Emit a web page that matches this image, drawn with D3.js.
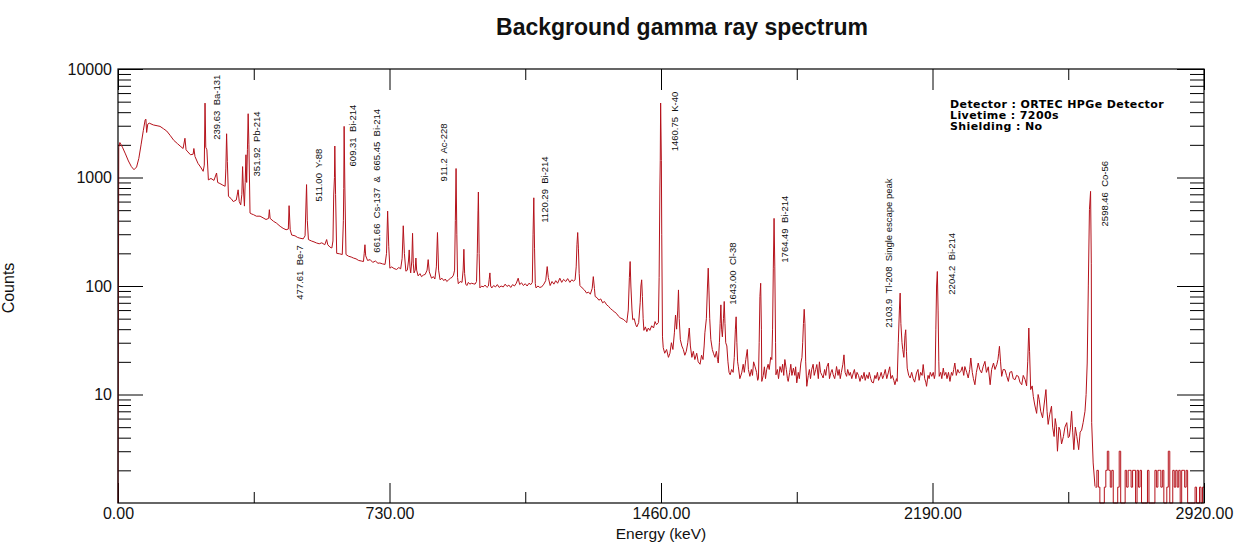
<!DOCTYPE html>
<html><head><meta charset="utf-8">
<script src="https://cdn.jsdelivr.net/npm/d3@7"></script>
<style>
body{margin:0;background:#fff;}
svg{display:block;font-family:"Liberation Sans",Arial,sans-serif;}
</style>
</head><body><svg id="chart" width="1245" height="552"></svg>
<script>
// ---------------- data ----------------
const titleText = "Background gamma ray spectrum";
const xLabel = "Energy (keV)";
const yLabel = "Counts";
const xMajorTicks = [0, 730, 1460, 2190, 2920];
const xMinorTicks = [365, 1095, 1825, 2555];
const yMajorTicks = [10, 100, 1000, 10000];
const infoLines = ["Detector : ORTEC HPGe Detector", "Livetime : 7200s", "Shielding : No"];

// [energy keV, counts]
const spectrumLow = [[0,1],[2,1900],[5,2100],[12,1900],[20,1650],[28,1420],[36,1260],[43,1180],[50,1250],[56,1500],[62,2000],[68,2700],[73,3400],[75,3450],[77,2600],[80,3100],[84,3170],[95,3050],[105,3000],[113,2960],[122,2820],[131,2680],[140,2450],[150,2200],[160,2050],[167,1950],[175,1850],[180,2300],[183,1800],[188,1720],[195,1620],[202,1640],[204,1850],[207,1560],[215,1350],[222,1250],[229,1140],[232,1300],[234,4850],[236,1900],[239,1800],[243,950],[250,980],[258,940],[265,1100],[268,900],[274,880],[282,850],[288,830],[290,1200],[292,2530],[294,1400],[297,670],[304,640],[310,600],[318,620],[323,770],[326,600],[330,560],[333,700],[335,1260],[337,800],[340,545],[342,900],[344,1620],[346,900],[348,1800],[350,3870],[352,2000],[355,470],[360,460],[364,455],[372,440],[382,440],[390,425],[398,410],[405,420],[407,505],[409,420],[418,395],[426,380],[436,355],[444,340],[452,330],[458,335],[460,550],[463,330],[467,295],[476,290],[483,280],[489,276],[498,272],[503,290],[507,860],[509,400],[512,268],[520,260],[527,255],[534,249],[541,245],[548,250],[556,240],[561,268],[564,240],[570,228],[575,224],[578,260],[580,690],[582,1000],[583,1950],[585,700],[588,200],[596,198],[603,195],[606,400],[607,790],[608,2960],[610,800],[613,195],[620,188],[627,185],[633,181],[640,178],[647,172],[654,170],[660,168],[662,200],[664,240],[666,190],[671,172],[678,175],[685,165],[692,170],[699,162],[704,163],[711,160],[718,158],[722,200],[725,490],[728,230],[731,146]];

const spectrumMid = [[736,150],[742,145],[749,142],[755,148],[760,144],[764,180],[767,359],[770,200],[774,137],[778,140],[781,170],[783,215],[785,150],[787,132],[790,170],[792,306],[794,160],[796,132],[799,140],[801,181],[803,140],[807,124],[812,130],[816,122],[821,126],[826,128],[831,140],[834,175],[837,135],[843,118],[848,122],[852,116],[856,150],[859,311],[862,140],[866,114],[871,118],[876,112],[880,116],[884,110],[889,114],[894,118],[898,120],[902,126],[905,140],[907,400],[909,1210],[911,300],[913,120],[915,105],[920,110],[925,108],[928,140],[930,218],[932,130],[935,104],[938,101],[942,108],[946,104],[950,106],[955,105],[960,104],[964,110],[966,200],[968,500],[969,735],[971,200],[973,96],[978,100],[982,98],[987,102],[992,97],[996,100],[998,115],[1000,132],[1002,100],[1005,96],[1010,101],[1015,98],[1020,103],[1025,97],[1030,100],[1036,98],[1041,104],[1046,99],[1051,102],[1056,97],[1061,103],[1066,100],[1071,106],[1076,118],[1080,103],[1085,107],[1090,101],[1095,105],[1100,100],[1105,106],[1110,103],[1114,108],[1116,300],[1118,650],[1120,220],[1122,105],[1124,96],[1129,100],[1134,97],[1139,98],[1145,104],[1150,112],[1154,151],[1157,120],[1162,101],[1167,110],[1172,104],[1177,112],[1182,106],[1188,118],[1193,108],[1198,115],[1204,110],[1209,117],[1215,108],[1220,114],[1225,111],[1229,114],[1232,150],[1234,240],[1236,311],[1238,220],[1240,130],[1242,101],[1248,96],[1254,92],[1260,86],[1265,88],[1270,84],[1275,95],[1278,122],[1281,95],[1283,80],[1288,78],[1293,74],[1298,76],[1303,70],[1308,72],[1314,67],[1319,65],[1324,62],[1329,60],[1334,58],[1340,56],[1345,53],[1350,51],[1355,50],[1360,49],[1365,47],[1368,46],[1372,60],[1375,120],[1377,168],[1379,100],[1382,60],[1384,49],[1388,50],[1392,44],[1395,42],[1400,46],[1404,70],[1406,100],[1408,114],[1410,80],[1412,50],[1414,39],[1418,42],[1422,38],[1426,41],[1430,39],[1435,43],[1440,41],[1444,47],[1448,44],[1453,46],[1455,120],[1457,800],[1458,1430],[1459,4860],[1461,1430],[1462,300],[1464,34]];

const spectrumHigh = [[1466,27],[1470,24],[1475,26],[1480,22],[1484,24],[1488,30],[1492,26],[1496,37],[1499,54],[1502,40],[1505,60],[1507,92],[1509,50],[1512,32],[1516,28],[1520,26],[1524,23],[1528,25],[1532,30],[1536,41],[1539,28],[1543,22],[1547,25],[1551,21],[1556,24],[1560,20],[1565,19],[1569,23],[1573,21],[1576,28],[1578,37],[1582,50],[1585,100],[1587,146],[1589,90],[1591,50],[1594,32],[1598,26],[1601,24],[1605,22],[1609,25],[1612,21],[1614,19.5],[1617,30],[1619,45],[1621,67],[1623,40],[1625,34],[1628,50],[1630,72],[1632,45],[1634,30],[1637,28],[1640,20],[1643,16],[1646,15.2],[1650,17],[1654,16],[1657,22],[1660,40],[1662,52],[1664,30],[1666,20],[1668,18],[1672,14],[1677,15.8],[1681,19],[1684,16],[1688,21],[1692,26],[1695,17],[1699,14.7],[1703,17],[1706,15],[1709,20],[1713,18],[1717,16],[1720,13.5],[1722,14.2],[1724,30],[1726,80],[1728,106],[1730,40],[1731,13.2],[1735,15],[1738,18],[1741,14],[1744,16.9],[1748,19],[1751,17],[1755,22],[1758,21],[1760,40],[1762,146],[1764,420],[1766,150],[1768,30],[1769,15.2],[1773,17],[1776,14],[1780,18.1],[1784,16],[1787,19],[1790,15],[1793,21],[1797,17],[1800,14],[1802,13.2],[1806,16],[1809,19],[1812,15],[1816,17.5],[1820,15],[1822,18],[1825,12.8],[1829,16],[1832,14],[1836,19.5],[1839,22],[1841,30],[1843,45],[1845,61],[1847,45],[1849,20],[1852,11.9],[1856,15],[1859,17],[1862,14],[1865,16.9],[1869,19],[1872,15],[1876,17],[1879,18.9],[1883,14],[1886,20],[1889,16],[1893,15],[1896,14.2],[1900,17],[1903,15],[1906,18],[1910,19.5],[1913,14],[1917,16],[1920,17],[1923,15.2],[1927,14],[1930,16],[1932,18.1],[1936,15],[1939,17],[1942,14],[1945,16],[1949,19],[1952,23.2],[1955,16],[1959,14.7],[1962,17],[1966,15],[1969,16],[1973,14],[1977,15.8],[1980,17],[1984,14],[1987,16],[1991,15],[1995,13.2],[1999,15],[2002,14],[2006,16],[2009,13.5],[2013,15.2],[2017,14],[2020,16],[2024,14],[2027,13],[2031,12.8],[2035,15],[2038,14],[2042,16],[2045,13.5],[2049,14.7],[2052,16],[2056,14],[2059,15],[2063,17],[2067,14],[2071,15.8],[2075,18],[2078,14],[2082,15],[2086,13.5],[2089,12.3],[2093,14],[2095,13.2],[2098,30],[2101,60],[2103,86],[2105,45],[2108,30],[2110,26],[2113,22],[2116,35],[2118,39.5],[2120,25],[2122,17.5],[2126,15],[2130,14.2],[2134,16],[2138,14],[2142,13],[2147,15.8],[2151,17],[2154,13.5],[2158,16],[2162,15],[2165,18.9],[2169,14],[2172,13],[2174,11.9],[2178,15],[2181,14],[2184,16],[2188,14.7],[2192,16],[2195,14],[2197,15.2],[2199,40],[2201,100],[2203,136],[2205,60],[2207,20],[2208,14.7],[2212,16],[2215,14],[2219,17.5],[2222,15],[2226,16],[2229,14],[2233,16],[2237,13.2],[2241,16],[2244,15],[2247,17],[2250,19.5],[2254,15],[2258,17],[2262,15.8]];

const spectrumTop = [[2266,16.3],[2270,18],[2274,15],[2277,18.1],[2282,16],[2286,14.2],[2290,17],[2293,21.7],[2297,16],[2300,14],[2304,12.3],[2308,16],[2313,19.5],[2317,17],[2322,15.8],[2326,18],[2331,20.2],[2335,16],[2340,18],[2345,12.3],[2349,17],[2354,19.5],[2358,17],[2363,18.9],[2366,21],[2368,24],[2370,27.8],[2373,20],[2376,14.7],[2380,17],[2385,16.9],[2389,15],[2394,13.2],[2398,16],[2403,16.3],[2407,14],[2412,13.7],[2416,15],[2421,14.7],[2425,13],[2430,12.3],[2434,15],[2439,13.7],[2443,12],[2446,20],[2449,41],[2451,25],[2454,11.1],[2458,12],[2461,9.6],[2465,8],[2470,6.7],[2474,10],[2477,8.96],[2481,7],[2486,6.1],[2490,8],[2495,11.1],[2498,7],[2501,5.3],[2505,6.5],[2510,7.8],[2513,5],[2517,4.1],[2520,6],[2523,5.1],[2526,3],[2530,5],[2533,4.7],[2537,3.5],[2542,4.1],[2546,5],[2551,5.5],[2555,4],[2558,4.1],[2561,5],[2564,7],[2567,4.5],[2570,3.1],[2574,5],[2578,4.1],[2581,3.5],[2583,3.1],[2587,4.5],[2591,4.7],[2595,5.5],[2600,7],[2603,10],[2606,19.5],[2609,102],[2612,506],[2615,745],[2617,160],[2618,5.5],[2622,2.34],[2627,1.42]];

// tail beyond the Co-56 peak: binned counts, 4 keV bins starting at 2628 keV
const tailStart = 2628;
const tailBin = 4;
const tailCounts = [1.4,2,1.4,1,1,1,1.4,2,3,2,1.4,2,1,1,1,1.4,3,1,1,1,2,1.4,2,2,1.4,2,2,1,2,1.4,2,1,1,1,1,2,1,1,1,1,2,1.4,2,2,1.4,2,1,1,1.4,3,1,1,2,1.4,2,1.4,2,1,2,2,1.4,2,1,1,1,1,1,1.4,1,1,1.4,1,1.4];

// peak annotations: [text, energy at text centre, counts at text start]
const peakLabels = [
  ["239.63  Ba-131", 265, 2230],
  ["351.92  Pb-214", 373, 1023],
  ["477.61  Be-7", 489, 74.8],
  ["511.00  Y-88", 539, 602],
  ["609.31  Bi-214", 632, 1265],
  ["661.66  Cs-137  &  665.45  Bi-214", 696, 203],
  ["911.2  Ac-228", 875, 921],
  ["1120.29  Bi-214", 1148, 383],
  ["1460.75  K-40", 1498, 1741],
  ["1643.00  Cl-38", 1654, 67.2],
  ["1764.49  Bi-214", 1793, 164],
  ["2103.9  Tl-208  Single escape peak", 2071, 41.3],
  ["2204.2  Bi-214", 2242, 83.2],
  ["2598.46  Co-56", 2654, 354]
];

// ---------------- drawing ----------------
const svg = d3.select("#chart");
const W = 1245, H = 552;
const m = {left: 118, right: 41, top: 69, bottom: 49};
const iw = W - m.left - m.right, ih = H - m.top - m.bottom;

const x = d3.scaleLinear().domain([0, 2920]).range([m.left, m.left + iw]);
const y = d3.scaleLog().domain([1, 10000]).range([m.top + ih, m.top]);

svg.append("rect").attr("width", W).attr("height", H).attr("fill", "#fff");

// title
svg.append("text").attr("x", 682).attr("y", 35).attr("text-anchor", "middle")
  .attr("font-size", 23).attr("font-weight", "bold").attr("fill", "#111").text(titleText);

// minor log ticks
const yMinorTicks = [];
[1, 10, 100, 1000].forEach(d => { for (let k = 2; k <= 9; k++) yMinorTicks.push(d * k); });

const tickFont = g => g.selectAll("text").attr("font-size", 16).attr("fill", "#111")
  .attr("font-family", "'Liberation Sans', Arial, sans-serif");
const noDomain = g => g.select(".domain").remove();

// left axis
svg.append("g").attr("transform", `translate(${m.left},0)`)
  .call(d3.axisLeft(y).tickValues(yMajorTicks).tickFormat(d3.format("d"))
    .tickSizeInner(-25).tickSizeOuter(0).tickPadding(6))
  .call(noDomain).call(tickFont);
svg.append("g").attr("transform", `translate(${m.left},0)`)
  .call(d3.axisLeft(y).tickValues(yMinorTicks).tickFormat("").tickSizeInner(-13).tickSizeOuter(0))
  .call(noDomain);
// right axis
svg.append("g").attr("transform", `translate(${m.left + iw},0)`)
  .call(d3.axisRight(y).tickValues(yMajorTicks).tickFormat("").tickSizeInner(-27).tickSizeOuter(0))
  .call(noDomain);
svg.append("g").attr("transform", `translate(${m.left + iw},0)`)
  .call(d3.axisRight(y).tickValues(yMinorTicks).tickFormat("").tickSizeInner(-14).tickSizeOuter(0))
  .call(noDomain);
// bottom axis
svg.append("g").attr("transform", `translate(0,${m.top + ih})`)
  .call(d3.axisBottom(x).tickValues(xMajorTicks).tickFormat(d3.format(".2f"))
    .tickSizeInner(-20).tickSizeOuter(0).tickPadding(5))
  .call(noDomain).call(tickFont);
svg.append("g").attr("transform", `translate(0,${m.top + ih})`)
  .call(d3.axisBottom(x).tickValues(xMinorTicks).tickFormat("").tickSizeInner(-11).tickSizeOuter(0))
  .call(noDomain);
// top axis
svg.append("g").attr("transform", `translate(0,${m.top})`)
  .call(d3.axisTop(x).tickValues(xMajorTicks).tickFormat("").tickSizeInner(-21).tickSizeOuter(0))
  .call(noDomain);
svg.append("g").attr("transform", `translate(0,${m.top})`)
  .call(d3.axisTop(x).tickValues(xMinorTicks).tickFormat("").tickSizeInner(-11).tickSizeOuter(0))
  .call(noDomain);
svg.selectAll(".tick line").attr("stroke", "#000");

// spectrum
const spectrum = [].concat(spectrumLow, spectrumMid, spectrumHigh, spectrumTop);
const line = d3.line().x(d => x(d[0])).y(d => y(d[1]));
svg.append("path").datum(spectrum).attr("d", line)
  .attr("fill", "none").attr("stroke", "#b5121b").attr("stroke-width", 1);

const tail = tailCounts.map((c, i) => [tailStart + i * tailBin, c]);
tail.push([2920, tailCounts[tailCounts.length - 1]]);
svg.append("path").datum(tail)
  .attr("d", d3.line().x(d => x(d[0])).y(d => y(d[1])).curve(d3.curveStepAfter))
  .attr("fill", "none").attr("stroke", "#b5121b").attr("stroke-width", 1);

// frame
svg.append("rect").attr("x", m.left).attr("y", m.top).attr("width", iw).attr("height", ih)
  .attr("fill", "none").attr("stroke", "#000").attr("stroke-width", 1.2);

// peak labels
svg.append("g").selectAll("text").data(peakLabels).join("text")
  .attr("transform", d => `translate(${x(d[1])},${y(d[2])}) rotate(-90)`)
  .attr("dy", "0.35em").attr("font-size", 9.5).attr("fill", "#111")
  .attr("xml:space", "preserve").style("white-space", "pre")
  .text(d => d[0]);

// info box
svg.append("g").selectAll("text").data(infoLines).join("text")
  .attr("x", 950).attr("y", (d, i) => 108 + i * 11)
  .attr("font-family", "'DejaVu Sans', sans-serif").attr("font-weight", "bold")
  .attr("font-size", 11).attr("letter-spacing", 0.4).attr("fill", "#000").text(d => d);

// axis titles
svg.append("text").attr("x", x(1460)).attr("y", 539).attr("text-anchor", "middle")
  .attr("font-size", 15.5).attr("fill", "#111").text(xLabel);
svg.append("text").attr("transform", "translate(14,288) rotate(-90)").attr("text-anchor", "middle")
  .attr("font-size", 16).attr("fill", "#111").text(yLabel);
</script>
</body></html>
